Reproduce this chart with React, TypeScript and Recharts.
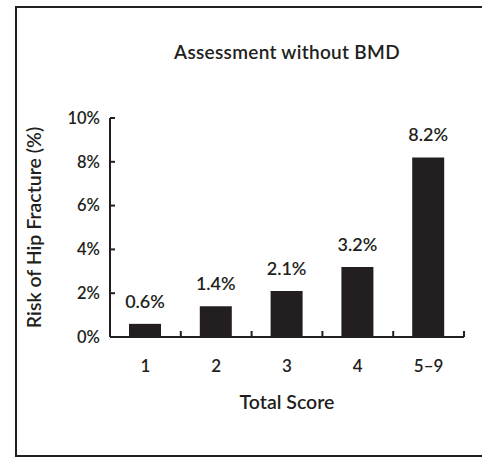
import React from 'react'
import { BarChart, Bar, XAxis, YAxis, LabelList } from 'recharts'

const scoreGroups = ['1', '2', '3', '4', '5–9']
const hipFractureRisk = [0.6, 1.4, 2.1, 3.2, 8.2]
const riskTicks = [0, 2, 4, 6, 8, 10]

const INK = '#231f20'
const FONT = 'Lato, "Open Sans", sans-serif'

const data = scoreGroups.map((score, i) => ({ score, risk: hipFractureRisk[i] }))

function YTick(props: any) {
  const { x, y, payload } = props
  return (
    <g>
      <line x1={x} x2={x + 5} y1={y} y2={y} stroke={INK} strokeWidth={2} />
      <text x={x - 10} y={y} dy="0.35em" textAnchor="end" fill={INK} fontSize={16.5} fontWeight={600} fontFamily={FONT}>
        {payload.value}%
      </text>
    </g>
  )
}

function XTick(props: any) {
  const { x, y, payload, width, visibleTicksCount } = props
  const half = width / visibleTicksCount / 2
  return (
    <g>
      <line x1={x + half} x2={x + half} y1={y} y2={y - 6} stroke={INK} strokeWidth={2} />
      <text x={x} y={y + 29} dy="0.35em" textAnchor="middle" fill={INK} fontSize={17} fontWeight={600} fontFamily={FONT}>
        {payload.value}
      </text>
    </g>
  )
}

export default function App() {
  return (
    <div style={{ position: 'absolute', left: 0, top: 0, width: 482, height: 458, background: '#fff' }}>
      <div
        style={{
          position: 'absolute',
          left: 15,
          top: 6,
          width: 467,
          height: 451,
          boxSizing: 'border-box',
          borderLeft: `2px solid ${INK}`,
          borderTop: `2px solid ${INK}`,
          borderBottom: `2px solid ${INK}`,
        }}
      />
      <div
        style={{
          position: 'absolute',
          left: 110,
          width: 354,
          top: 42,
          lineHeight: '20px',
          textAlign: 'center',
          fontFamily: FONT,
          fontWeight: 600,
          fontSize: 19,
          letterSpacing: 0.3,
          color: INK,
        }}
      >
        Assessment without BMD
      </div>
      <div style={{ position: 'absolute', left: 0, top: 0 }}>
        <BarChart width={482} height={458} data={data} margin={{ top: 118, right: 18, bottom: 0, left: 0 }}>
          <XAxis
            dataKey="score"
            height={121}
            interval={0}
            axisLine={{ stroke: INK, strokeWidth: 2 }}
            tickLine={false}
            tickSize={0}
            tickMargin={0}
            tick={<XTick />}
            label={{
              value: 'Total Score',
              position: 'insideTop',
              offset: 58,
              fill: INK,
              fontSize: 19.5,
              fontWeight: 600,
              fontFamily: FONT,
            }}
          />
          <YAxis
            width={110}
            domain={[0, 10]}
            ticks={riskTicks}
            interval={0}
            axisLine={{ stroke: INK, strokeWidth: 2 }}
            tickLine={false}
            tickSize={0}
            tickMargin={0}
            tick={<YTick />}
            label={{
              value: 'Risk of Hip Fracture (%)',
              angle: -90,
              position: 'insideLeft',
              offset: 34,
              fill: INK,
              fontSize: 19.5,
              fontWeight: 600,
              fontFamily: FONT,
              style: { textAnchor: 'middle' },
            }}
          />
          <Bar dataKey="risk" fill={INK} barSize={32} isAnimationActive={false}>
            <LabelList
              dataKey="risk"
              position="top"
              offset={16}
              formatter={(v: any) => `${v}%`}
              fill={INK}
              fontSize={18}
              fontWeight={600}
              fontFamily={FONT}
            />
          </Bar>
        </BarChart>
      </div>
    </div>
  )
}
